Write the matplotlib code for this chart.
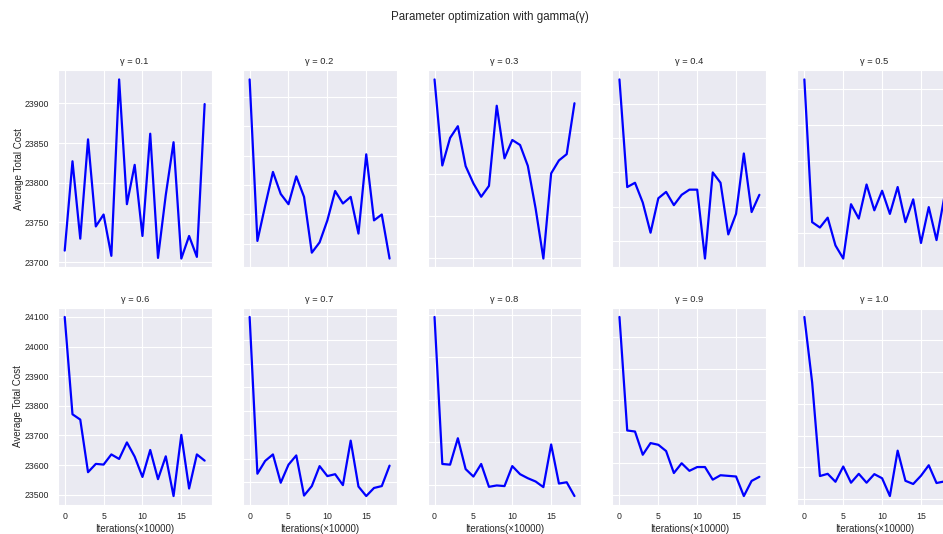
import numpy as np
import matplotlib.pyplot as plt
import seaborn as sns

# estilo de fondo gris con rejilla blanca
sns.set_style('darkgrid')
plt.rcParams['font.family'] = ['Liberation Sans', 'DejaVu Sans']

# iteraciones (x10000)
iterations = np.arange(19)
gammas = [0.1, 0.2, 0.3, 0.4, 0.5, 0.6, 0.7, 0.8, 0.9, 1.0]

# costo total promedio para cada gamma
cost_g01 = [23714.6, 23827, 23729.6, 23854.6, 23745, 23760, 23708, 23930, 23773,
            23822.5, 23733, 23861.7, 23705.4, 23784.6, 23851, 23704.6, 23733,
            23706.7, 23899]
cost_g02 = [23832, 23722, 23746, 23769, 23754, 23747, 23766, 23752, 23714, 23721,
            23736, 23756, 23747.5, 23752, 23727, 23781, 23736, 23740, 23710]
cost_g03 = [23913.5, 23810.5, 23843.5, 23857.5, 23809.7, 23789, 23773, 23786,
            23882, 23819, 23841, 23835, 23810, 23759, 23699, 23801, 23816.5,
            23824, 23885]
cost_g04 = [23814, 23751.5, 23754, 23742.5, 23725, 23745, 23748.7, 23741, 23747,
            23750, 23750, 23710, 23760, 23754, 23724, 23736, 23771, 23737, 23747]
cost_g05 = [23805.6, 23726, 23723, 23728.5, 23713, 23705.7, 23736, 23728, 23747,
            23732.6, 23743.5, 23730.6, 23745.6, 23726, 23738.7, 23714.4, 23734.4,
            23716, 23740]
cost_g06 = [24100, 23771.5, 23753.6, 23576, 23604, 23601.7, 23636, 23620.7,
            23676.5, 23628.5, 23560, 23651, 23552.5, 23629.6, 23495.5, 23702,
            23521, 23636, 23615]
cost_g07 = [24098, 23768, 23795, 23808.6, 23749, 23787, 23806.5, 23722, 23742,
            23784, 23763, 23767, 23744, 23837.6, 23741, 23721, 23738, 23742, 23785]
cost_g08 = [24094.6, 23749, 23747.4, 23809.5, 23737, 23719.4, 23749, 23695.3,
            23698.5, 23697, 23744, 23725, 23715.5, 23707.8, 23694.6, 23794.8,
            23703, 23706, 23673.6]
cost_g09 = [24064, 23704, 23700.6, 23627, 23664, 23658.6, 23638.7, 23569, 23600,
            23576, 23588, 23588, 23548, 23562, 23560, 23558, 23496, 23544, 23557]
cost_g10 = [24074, 23868, 23573, 23580, 23555, 23603, 23552, 23580, 23552, 23579,
            23566, 23510, 23653, 23558, 23548, 23574, 23607, 23551, 23556]

costs = [cost_g01, cost_g02, cost_g03, cost_g04, cost_g05,
         cost_g06, cost_g07, cost_g08, cost_g09, cost_g10]

fig, axes = plt.subplots(2, 5, figsize=(9.43, 5.34), dpi=100, sharex=True)
fig.subplots_adjust(left=0.0612, right=1.0088, bottom=0.0543, top=0.868,
                    wspace=0.2013, hspace=0.2056)

for k, ax in enumerate(axes.flat):
    ax.plot(iterations, costs[k], color='b', lw=1.6)
    ax.set_title('γ = {}'.format(gammas[k]), fontsize=6.7, pad=4.5)
    ax.tick_params(axis='y', labelsize=6.3, length=0, pad=6)
    ax.tick_params(axis='x', labelsize=6.3, length=0, pad=5)
    ax.ticklabel_format(axis='y', useOffset=False)
    if k % 5 == 0:
        ax.set_ylabel('Average Total Cost', fontsize=7, labelpad=1)
    else:
        ax.tick_params(labelleft=False)
    if k >= 5:
        ax.set_xlabel('Iterations(×10000)', fontsize=7, labelpad=2)

fig.suptitle('Parameter optimization with gamma(γ)', x=0.5196, y=0.968,
             va='center', fontsize=8.3)

fig.savefig('out.png', dpi=100)
